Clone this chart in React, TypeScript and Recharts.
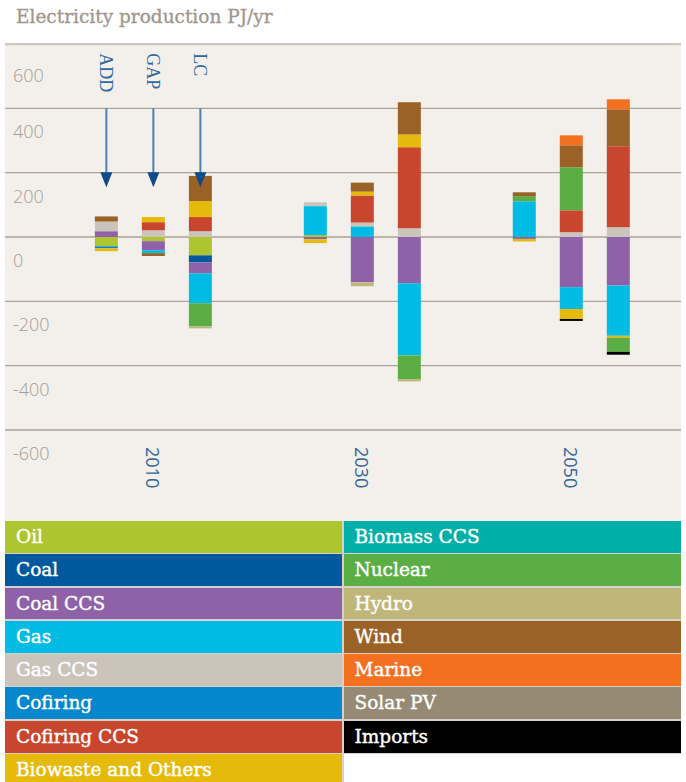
import React from "react";
import { BarChart, Bar, XAxis, YAxis, CartesianGrid, ReferenceLine } from "recharts";

const years = [2010, 2030, 2050];
const scenarios = ["ADD", "GAP", "LC"];
const yTicks = [-600, -400, -200, 0, 200, 400, 600];

// one value per bar: 2010 ADD, GAP, LC | 2030 ADD, GAP, LC | 2050 ADD, GAP, LC
const oil = [-29, -13, -57, 6, 0, 0, 0, 0, 0];
const coal = [0, 0, -22, 0, 0, 0, 0, 0, 0];
const coalCcs = [18, -28, -34, -7, -141, -144, -6, -156, -151];
const gas = [0, -9, -93, 90, 33, -224, 111, -68, -156];
const gasCcs = [30, 21, 18, 12, 12, 27, 0, 15, 30];
const cofiring = [-6, 0, 0, 0, 0, 0, 0, 0, 0];
const cofiringCcs = [0, 25, 44, 0, 84, 252, 0, 68, 252];
const biowaste = [-9, 16, 50, -12, 12, 40, -8, -31, -6];
const biomassCcs = [0, 0, 0, 0, 0, 0, 0, 0, 0];
const nuclear = [0, 0, -72, 0, 0, -75, 16, 134, -44];
const hydro = [0, 0, -6, 0, -12, -6, 0, 0, 0];
const wind = [16, -9, 78, 0, 28, 100, 12, 68, 115];
const marine = [0, 0, 0, 0, 0, 0, 0, 31, 31];
const solarPv = [0, 0, 0, 0, 0, 0, 0, 0, 0];
const imports = [0, 0, 0, 0, 0, 0, 0, -6, -9];

const series = [
  { key: "oil", name: "Oil", color: "#adc52f", values: oil },
  { key: "coal", name: "Coal", color: "#00589d", values: coal },
  { key: "coalCcs", name: "Coal CCS", color: "#8e61a8", values: coalCcs },
  { key: "gas", name: "Gas", color: "#00bbe3", values: gas },
  { key: "gasCcs", name: "Gas CCS", color: "#cbc4bb", values: gasCcs },
  { key: "cofiring", name: "Cofiring", color: "#0587cd", values: cofiring },
  { key: "cofiringCcs", name: "Cofiring CCS", color: "#c8452e", values: cofiringCcs },
  { key: "biowaste", name: "Biowaste and Others", color: "#e5ba0a", values: biowaste },
  { key: "biomassCcs", name: "Biomass CCS", color: "#00afa8", values: biomassCcs },
  { key: "nuclear", name: "Nuclear", color: "#5bae44", values: nuclear },
  { key: "hydro", name: "Hydro", color: "#c0b67a", values: hydro },
  { key: "wind", name: "Wind", color: "#9a6226", values: wind },
  { key: "marine", name: "Marine", color: "#f37021", values: marine },
  { key: "solarPv", name: "Solar PV", color: "#968a74", values: solarPv },
  { key: "imports", name: "Imports", color: "#000000", values: imports },
];

// scenario bars sit either side of the year
const scenarioOffset = [-4.5, 0, 4.5];

const data = years.flatMap((year, yi) =>
  scenarios.map((sc, si) => {
    const row: Record<string, number | string> = { x: year + scenarioOffset[si], scenario: sc };
    series.forEach((s) => {
      row[s.key] = s.values[yi * 3 + si];
    });
    return row;
  })
);

const renderYTick = (props: any) => (
  <text
    x={8}
    y={props.y + 23}
    fill="#a59c93"
    fontSize={18}
    fontFamily="'Open Sans', sans-serif"
    fontWeight={300}
    dominantBaseline="central"
  >
    {props.payload.value}
  </text>
);

const renderXTick = (props: any) => (
  <text
    transform={`translate(${props.x},${props.y + 9}) rotate(90)`}
    fill="#2f659a"
    fontSize={18}
    fontFamily="'Open Sans', sans-serif"
    dominantBaseline="central"
    textAnchor="start"
  >
    {props.payload.value}
  </text>
);

const renderArrow = (label: string) => (props: any) => {
  const { x1, y1, x2, y2 } = props;
  return (
    <g>
      <text
        transform={`translate(${x1},${y1 - 55}) rotate(90)`}
        fill="#2e68a0"
        fontSize={18}
        fontFamily="'Liberation Serif', serif"
        dominantBaseline="central"
      >
        {label}
      </text>
      <line x1={x1} y1={y1} x2={x2} y2={y2 - 12} stroke="#4d7fb0" strokeWidth={2} />
      <polygon points={`${x2 - 6},${y2 - 15} ${x2 + 6},${y2 - 15} ${x2},${y2}`} fill="#0d4c86" />
    </g>
  );
};

export default function App() {
  const left = series.slice(0, 8);
  const right = series.slice(8);
  return (
    <div
      style={{
        position: "absolute",
        left: 0,
        top: 0,
        width: 686,
        height: 782,
        overflow: "hidden",
        background: "#ffffff",
      }}
    >
      <div
        style={{
          position: "absolute",
          left: 16,
          top: 5,
          fontFamily: "'DejaVu Serif', serif",
          fontSize: 18.5,
          lineHeight: "24px",
          color: "#a0978f",
          WebkitTextStroke: "0.35px #a0978f",
        }}
      >
        Electricity production PJ/yr
      </div>
      <div
        style={{
          position: "absolute",
          left: 5,
          top: 43,
          width: 676,
          height: 478,
          background: "#f3f0ec",
        }}
      >
        <BarChart
          width={676}
          height={472}
          data={data}
          stackOffset="sign"
          margin={{ top: 1, right: 0, bottom: 0, left: -1 }}
        >
          <CartesianGrid vertical={false} stroke="#ada399" strokeWidth={1.3} />
          <XAxis
            type="number"
            dataKey="x"
            domain={[1995.8, 2060.5]}
            ticks={years}
            axisLine={false}
            tickLine={false}
            height={85}
            tick={renderXTick}
            allowDataOverflow
          />
          <YAxis
            type="number"
            domain={[-600, 600]}
            ticks={yTicks}
            width={1}
            axisLine={false}
            tickLine={false}
            tick={renderYTick}
            allowDataOverflow
          />
          <ReferenceLine y={600} stroke="#cdc6be" strokeWidth={2.5} />
          {series.map((s) => (
            <Bar
              key={s.key}
              dataKey={s.key}
              name={s.name}
              stackId="a"
              fill={s.color}
              barSize={23}
              isAnimationActive={false}
            />
          ))}
          {scenarios.map((sc, si) => (
            <ReferenceLine
              key={sc}
              segment={[
                { x: years[0] + scenarioOffset[si], y: 400 },
                { x: years[0] + scenarioOffset[si], y: 155 },
              ]}
              shape={renderArrow(sc)}
            />
          ))}
        </BarChart>
      </div>
      <div
        style={{
          position: "absolute",
          left: 5,
          top: 521,
          width: 676,
          display: "grid",
          gridTemplateColumns: "337px 337.5px",
          gridTemplateRows: "repeat(8, 31.8px)",
          gridAutoFlow: "column",
          columnGap: 1.5,
          rowGap: 1.5,
          background: "#d6d1cc",
        }}
      >
        {[...left, ...right].map((s) => (
          <div
            key={s.key}
            style={{
              background: s.color,
              color: "#ffffff",
              fontFamily: "'DejaVu Serif', serif",
              fontSize: 18.5,
              lineHeight: "31.8px",
              paddingLeft: 11,
              whiteSpace: "nowrap",
              WebkitTextStroke: "0.4px #ffffff",
            }}
          >
            {s.name}
          </div>
        ))}
        <div style={{ background: "#ffffff" }} />
      </div>
    </div>
  );
}
